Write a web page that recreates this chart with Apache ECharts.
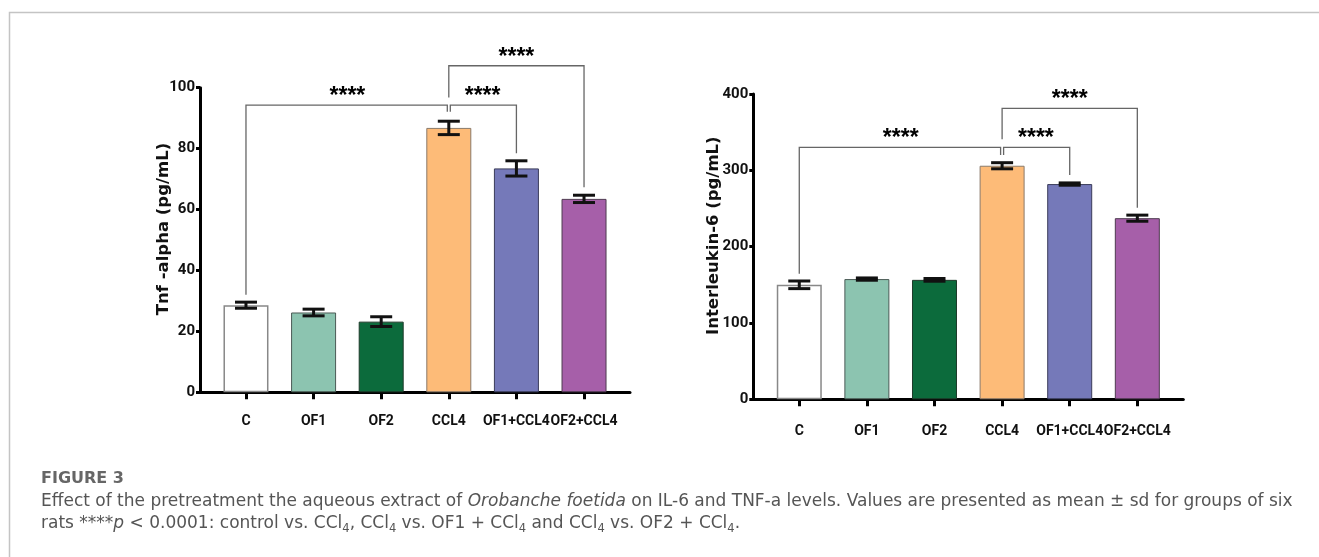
<!DOCTYPE html>
<html><head><meta charset="utf-8">
<script src="https://cdn.jsdelivr.net/npm/echarts@6/dist/echarts.min.js"></script>
<style>html,body{margin:0;padding:0;background:#fff}#c{width:1319px;height:557px}</style>
</head><body><div id="c"></div>
<script>
// ---- data ----
const categories = ['C', 'OF1', 'OF2', 'CCL4', 'OF1+CCL4', 'OF2+CCL4'];
const tnfMean = [28.6, 26.2, 23.2, 86.8, 73.5, 63.5];
const tnfSd   = [1.0, 1.1, 1.6, 2.2, 2.5, 1.2];
const il6Mean = [150, 157.5, 156.5, 306, 282, 237.3];
const il6Sd   = [5, 1.5, 1.8, 4, 1.5, 4];
const tnfTicks = [0, 20, 40, 60, 80, 100];
const il6Ticks = [0, 100, 200, 300, 400];
const tnfTitle = 'Tnf -alpha (pg/mL)';
const il6Title = 'Interleukin-6 (pg/mL)';
// significance brackets: group index from / to, bracket level, leg ends, star level
const tnfBrFrom = [0, 3, 3];
const tnfBrTo = [3, 4, 5];
const tnfBrLevel = [94.3, 94.3, 107.2];
const tnfBrLeftEnd = [32.0, 92.1, 96.8];
const tnfBrRightEnd = [92.1, 78.5, 67.3];
const tnfStarLevel = [98.6, 98.6, 111.6];
const il6BrFrom = [0, 3, 3];
const il6BrTo = [3, 4, 5];
const il6BrLevel = [330.1, 330.1, 381.2];
const il6BrLeftEnd = [164.6, 320, 340.6];
const il6BrRightEnd = [320, 293.8, 251];
const il6StarLevel = [348.5, 348.5, 399];
const starLabel = '****';

// ---- styles ----
const barColors = ['#ffffff', '#8cc4b0', '#0c6b3c', '#fdbb78', '#7579b9', '#a65fa9'];
const barBorders = ['#888888', '#4a5a55', '#1f3a2a', '#8a7a6a', '#3a3c5a', '#4e3a50'];
const tickFont = 'Roboto, "Liberation Sans", sans-serif';
const catIdx = categories.map((c, i) => i);

function yAxisOf(ticks, title, idx, gap) {
  return {
    type: 'value', gridIndex: idx,
    min: ticks[0], max: ticks[ticks.length - 1], interval: ticks[1] - ticks[0],
    name: title, nameLocation: 'middle', nameGap: gap, nameMoveOverlap: false,
    nameTextStyle: { fontFamily: '"DejaVu Sans", sans-serif', fontWeight: 'bold', fontSize: 16.5, color: '#111', padding: [0, 0, 0, 22] },
    axisLine: { show: true, onZero: false, lineStyle: { color: '#000', width: 3 } },
    axisTick: { show: true, length: 4, lineStyle: { color: '#000', width: 3 } },
    axisLabel: { fontFamily: tickFont, fontWeight: 'bold', fontSize: 15, color: '#111', margin: 5 },
    splitLine: { show: false }
  };
}
function xAxisOf(idx, margin) {
  return {
    type: 'value', gridIndex: idx, min: -0.68, max: 5.68,
    axisLine: { show: true, onZero: false, lineStyle: { color: '#000', width: 3 } },
    axisTick: { show: true, length: 7, customValues: catIdx, lineStyle: { color: '#000', width: 3 } },
    axisLabel: { show: true, customValues: catIdx, showMinLabel: true, showMaxLabel: true, hideOverlap: false,
      margin: margin, fontFamily: tickFont, fontWeight: 'bold', fontSize: 14, color: '#111',
      formatter: v => categories[Math.round(v)] },
    splitLine: { show: false }
  };
}
function barSeries(means, idx) {
  return {
    type: 'bar', xAxisIndex: idx, yAxisIndex: idx, barWidth: 45, z: 2,
    data: means.map((v, k) => ({ value: [k, v], itemStyle: { color: barColors[k], borderColor: barBorders[k], borderWidth: k === 0 ? 1.5 : 1 } }))
  };
}
function errRender(params, api) {
  const x = api.value(0), m = api.value(1), s = api.value(2);
  const top = api.coord([x, m + s]), bot = api.coord([x, m - s]);
  const hw = 11;
  const st = { stroke: '#111', lineWidth: 3 };
  return { type: 'group', children: [
    { type: 'line', shape: { x1: top[0], y1: top[1], x2: bot[0], y2: bot[1] }, style: st },
    { type: 'line', shape: { x1: top[0] - hw, y1: top[1], x2: top[0] + hw, y2: top[1] }, style: st },
    { type: 'line', shape: { x1: bot[0] - hw, y1: bot[1], x2: bot[0] + hw, y2: bot[1] }, style: st }
  ] };
}
function errSeries(means, sds, idx) {
  return { type: 'custom', xAxisIndex: idx, yAxisIndex: idx, z: 5, clip: false,
    encode: { x: 0, y: 1 }, renderItem: errRender,
    data: means.map((v, k) => [k, v, sds[k]]) };
}
function bracketSeries(from, to, level, lEnd, rEnd, star, idx) {
  const nudge = [[0, -1.5], [1.5, 0], [0, 0]];
  return { type: 'custom', xAxisIndex: idx, yAxisIndex: idx, z: 6, clip: false,
    encode: { x: 0, y: 1 },
    data: from.map((f, i) => [f, level[i]]),
    renderItem: function (params, api) {
      const i = params.dataIndex;
      const a = api.coord([from[i], lEnd[i]]), b = api.coord([from[i], level[i]]);
      const c = api.coord([to[i], level[i]]), d = api.coord([to[i], rEnd[i]]);
      const xl = a[0] + nudge[i][0], xr = c[0] + nudge[i][1];
      const s = api.coord([(from[i] + to[i]) / 2, star[i]]);
      return { type: 'group', children: [
        { type: 'polyline', shape: { points: [[xl, a[1]], [xl, b[1]], [xr, c[1]], [xr, d[1]]] },
          style: { stroke: '#666', lineWidth: 1.3, fill: null } },
        { type: 'text', x: s[0], y: s[1] + 5,
          style: { text: starLabel, fill: '#000', font: 'bold 23px "Liberation Sans", Arial, sans-serif', align: 'center', verticalAlign: 'middle' } }
      ] };
    } };
}

const capFont = '"DejaVu Sans", sans-serif';
const capRich = {
  i: { fontFamily: capFont, fontStyle: 'italic', fontSize: 17, color: '#555', lineHeight: 22, verticalAlign: 'middle' },
  s: { fontFamily: capFont, fontSize: 11.5, color: '#555', lineHeight: 14, verticalAlign: 'bottom' }
};

const option = {
  animation: false,
  backgroundColor: '#fff',
  grid: [
    { left: 200, top: 87.7, width: 430, height: 304.6 },
    { left: 753.3, top: 94, width: 430, height: 305.3 }
  ],
  xAxis: [xAxisOf(0, 22), xAxisOf(1, 25)],
  yAxis: [yAxisOf(tnfTicks, tnfTitle, 0, 28), yAxisOf(il6Ticks, il6Title, 1, 31)],
  series: [
    barSeries(tnfMean, 0), errSeries(tnfMean, tnfSd, 0),
    bracketSeries(tnfBrFrom, tnfBrTo, tnfBrLevel, tnfBrLeftEnd, tnfBrRightEnd, tnfStarLevel, 0),
    barSeries(il6Mean, 1), errSeries(il6Mean, il6Sd, 1),
    bracketSeries(il6BrFrom, il6BrTo, il6BrLevel, il6BrLeftEnd, il6BrRightEnd, il6StarLevel, 1)
  ],
  graphic: [
    { type: 'polyline', shape: { points: [[9.5, 557], [9.5, 12.5], [1319, 12.5]] }, style: { stroke: '#c4c4c4', lineWidth: 1.5, fill: null } },
    { type: 'text', x: 41, y: 479, style: { text: 'FIGURE 3', font: 'bold 16px ' + capFont, fill: '#666', verticalAlign: 'middle' } },
    { type: 'text', x: 41, y: 502, style: {
      text: 'Effect of the pretreatment the aqueous extract of {i|Orobanche foetida} on IL-6 and TNF-a levels. Values are presented as mean ± sd for groups of six',
      font: '17px ' + capFont, fill: '#555', verticalAlign: 'middle', lineHeight: 22, rich: capRich } },
    { type: 'text', x: 41, y: 524, style: {
      text: 'rats ****{i|p} < 0.0001: control vs. CCl{s|4}, CCl{s|4} vs. OF1 + CCl{s|4} and CCl{s|4} vs. OF2 + CCl{s|4}.',
      font: '17px ' + capFont, fill: '#555', verticalAlign: 'middle', lineHeight: 22, rich: capRich } }
  ]
};
const chart = echarts.init(document.getElementById('c'), null, { renderer: 'canvas' });
chart.setOption(option);
</script></body></html>
